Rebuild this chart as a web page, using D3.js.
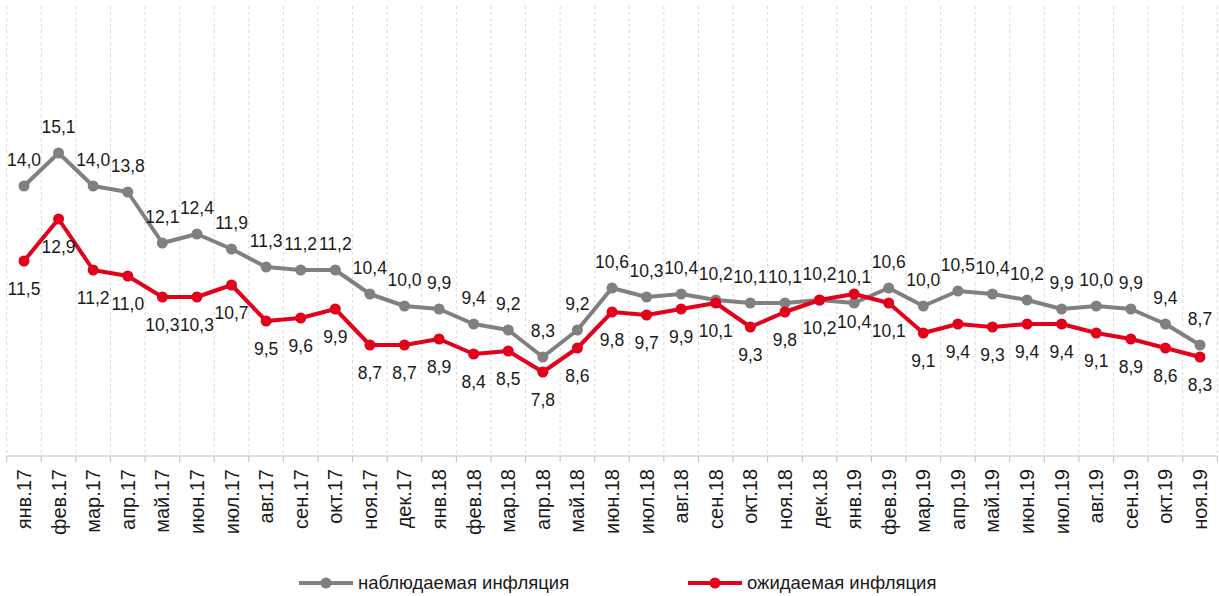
<!DOCTYPE html>
<html><head><meta charset="utf-8">
<script src="https://cdn.jsdelivr.net/npm/d3@7"></script>
<style>body{margin:0;background:#fff;}svg{display:block;font-family:"Liberation Sans",Arial,sans-serif;}</style>
</head><body><svg id="c" width="1219" height="596"></svg>
<script>
const months = ["янв.17","фев.17","мар.17","апр.17","май.17","июн.17","июл.17","авг.17","сен.17","окт.17","ноя.17","дек.17",
"янв.18","фев.18","мар.18","апр.18","май.18","июн.18","июл.18","авг.18","сен.18","окт.18","ноя.18","дек.18",
"янв.19","фев.19","мар.19","апр.19","май.19","июн.19","июл.19","авг.19","сен.19","окт.19","ноя.19"];
const observed = [14.0,15.1,14.0,13.8,12.1,12.4,11.9,11.3,11.2,11.2,10.4,10.0,
9.9,9.4,9.2,8.3,9.2,10.6,10.3,10.4,10.2,10.1,10.1,10.2,
10.1,10.6,10.0,10.5,10.4,10.2,9.9,10.0,9.9,9.4,8.7];
const expected = [11.5,12.9,11.2,11.0,10.3,10.3,10.7,9.5,9.6,9.9,8.7,8.7,
8.9,8.4,8.5,7.8,8.6,9.8,9.7,9.9,10.1,9.3,9.8,10.2,
10.4,10.1,9.1,9.4,9.3,9.4,9.4,9.1,8.9,8.6,8.3];
const seriesNames = ["наблюдаемая инфляция","ожидаемая инфляция"];
const colors = ["#808080","#e2001a"];

const svg = d3.select("#c");
const x = d3.scaleBand().domain(months).range([6.7,1217.3]);
const y = d3.scaleLinear().domain([5,20]).range([456,6]);
const cx = m => x(m) + x.bandwidth()/2;
const bounds = months.map(m=>x(m)).concat([x.range()[1]]);

// gridlines
svg.append("g").selectAll("line").data(bounds).join("line")
  .attr("x1",d=>d).attr("x2",d=>d)
  .attr("y1",y(20)).attr("y2",y(5))
  .attr("stroke","#d9d9d9").attr("stroke-width",1).attr("stroke-dasharray","3,3");

// axis
const ax = svg.append("g").attr("transform",`translate(0,${y(5)})`);
ax.append("line").attr("x1",x.range()[0]).attr("x2",x.range()[1]).attr("stroke","#bfbfbf").attr("stroke-width",1);
ax.selectAll("line.t").data(bounds).join("line").attr("class","t")
  .attr("x1",d=>d).attr("x2",d=>d)
  .attr("y1",0).attr("y2",6).attr("stroke","#bfbfbf");
ax.selectAll("text").data(months).join("text")
  .attr("transform",d=>`translate(${cx(d)},13) rotate(-90)`)
  .attr("text-anchor","end").attr("dy","0.35em")
  .attr("font-size",20).attr("fill","#1a1a1a").text(d=>d);

const line = d3.line().x((d,i)=>cx(months[i])).y(d=>y(d));
[observed,expected].forEach((s,k)=>{
  svg.append("path").datum(s).attr("d",line).attr("fill","none")
    .attr("stroke",colors[k]).attr("stroke-width",4).attr("stroke-linejoin","round");
  svg.append("g").selectAll("circle").data(s).join("circle")
    .attr("cx",(d,i)=>cx(months[i])).attr("cy",d=>y(d)).attr("r",5.5).attr("fill",colors[k]);
});
[observed,expected].forEach((s,k)=>{
  svg.append("g").selectAll("text").data(s).join("text")
    .attr("x",(d,i)=>cx(months[i])).attr("y",d=>y(d)+(k===0?-26:28)).attr("dy","0.35em")
    .attr("text-anchor","middle").attr("font-size",17.5).attr("fill","#1a1a1a")
    .text(d=>d.toFixed(1).replace(".",","));
});

// legend
const legX = [299,688];
seriesNames.forEach((n,k)=>{
  const g = svg.append("g").attr("transform",`translate(${legX[k]},583)`);
  g.append("line").attr("x1",0).attr("x2",54).attr("stroke",colors[k]).attr("stroke-width",4);
  g.append("circle").attr("cx",27).attr("r",5.5).attr("fill",colors[k]);
  g.append("text").attr("x",59).attr("dy","0.35em").attr("font-size",18.5).attr("fill","#1a1a1a").text(n);
});
</script></body></html>
